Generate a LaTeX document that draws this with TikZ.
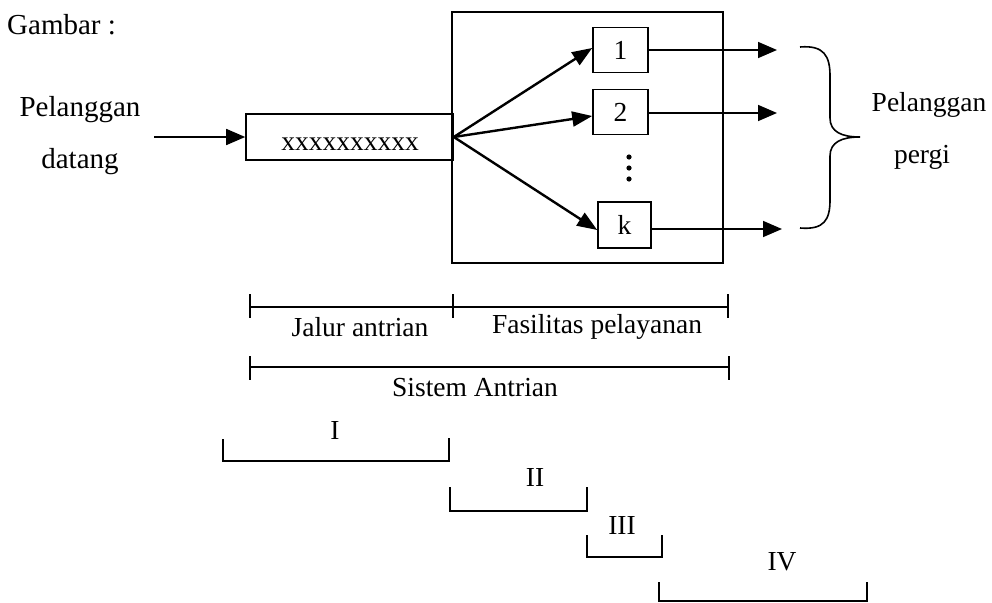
\documentclass[tikz,border=0pt]{standalone}
\usepackage{fontspec}
\setmainfont{Liberation Serif}
\usetikzlibrary{arrows.meta}

\tikzset{
  ln/.style={line width=1.6pt},
  boxed/.style={draw, ln, rectangle, inner sep=0pt},
  flow/.style={ln, -{Triangle[length=19pt,width=16pt]}},
  fan/.style={line width=2.4pt, -{Triangle[length=20pt,width=15pt]}},
  bigtxt/.style={font=\fontsize{29}{29}\selectfont, inner sep=0pt},
  txt/.style={font=\fontsize{27.5}{27.5}\selectfont, inner sep=0pt},
}

\begin{document}
\begin{tikzpicture}[x=1pt, y=-1pt]
  \useasboundingbox (0,0) rectangle (992,602);

  % title and side labels
  \node[bigtxt, anchor=west] (title) at (7,25) {Gambar :};
  \node[bigtxt] (inA) at (80,110) {Pelanggan};
  \node[bigtxt] (inB) at (80,162) {datang};
  \node[txt] (outA) at (929,105) {Pelanggan};
  \node[txt] (outB) at (922,157) {pergi};

  % queue line and service facility
  \node[boxed, minimum width=207pt, minimum height=46pt] (queue) at (349.5,137) {};
  \node[txt] (qtxt) at (350,144) {xxxxxxxxxx};
  \node[boxed, minimum width=271pt, minimum height=251pt] (fac) at (587.5,137.5) {};

  % servers
  \node[boxed, txt, minimum width=55pt, minimum height=45pt] (s1) at (620.5,50) {1};
  \node[boxed, txt, minimum width=55pt, minimum height=45pt] (s2) at (620.5,112) {2};
  \node[boxed, txt, minimum width=53pt, minimum height=46pt] (sk) at (624.5,225) {k};
  \foreach \yy in {157,168,179} \fill (629,\yy) circle (2.6pt);

  % arrivals
  \coordinate (arr) at (154,137);
  \draw[flow] (arr) -- (queue.west);

  % routing to servers
  \draw[fan] (queue.east) -- ([yshift=2pt]s1.west);
  \draw[fan] (queue.east) -- ([yshift=-4pt]s2.west);
  \draw[fan] (queue.east) -- ([yshift=-5pt]sk.west);

  % departures
  \coordinate (o1) at (777,50);
  \coordinate (o2) at (777,113);
  \coordinate (ok) at (782,229);
  \draw[flow] (s1.east) -- (o1);
  \draw[flow] (s2.east |- o2) -- (o2);
  \draw[flow] (sk.east |- ok) -- (ok);

  % brace
  \draw[ln] (800,47) .. controls (824,45) and (830,56) .. (830,76)
    -- (830,118) .. controls (830,132) and (842,137) .. (860,137)
    .. controls (842,137) and (830,142) .. (830,156)
    -- (830,200) .. controls (830,220) and (824,230) .. (800,228);

  % dimension lines
  \coordinate (d1) at (250,307);
  \coordinate (d2) at (453,307);
  \coordinate (d3) at (728,307);
  \draw[ln] (d1) -- (d3);
  \foreach \p in {d1,d2,d3} \draw[ln] ([yshift=13pt]\p) -- ([yshift=-11pt]\p);
  \node[txt] (jal) at (360,327) {Jalur antrian};
  \node[txt] (fas) at (597,327) {Fasilitas pelayanan};

  \coordinate (e1) at (250,367);
  \coordinate (e2) at (729,367);
  \draw[ln] (e1) -- (e2);
  \foreach \p in {e1,e2} \draw[ln] ([yshift=11pt]\p) -- ([yshift=-13pt]\p);
  \node[txt] (sis) at (475,388) {Sistem Antrian};

  % phases
  \draw[ln] (223,439) -- (223,461) -- (449,461) -- (449,438);
  \node[txt] (p1) at (335,430) {I};
  \draw[ln] (450,487) -- (450,511) -- (587,511) -- (587,487);
  \node[txt] (p2) at (535,477) {II};
  \draw[ln] (587,535) -- (587,557) -- (662,557) -- (662,535);
  \node[txt] (p3) at (622,525) {III};
  \draw[ln] (659,582) -- (659,601) -- (867,601) -- (867,582);
  \node[txt] (p4) at (782,562) {IV};
\end{tikzpicture}
\end{document}
